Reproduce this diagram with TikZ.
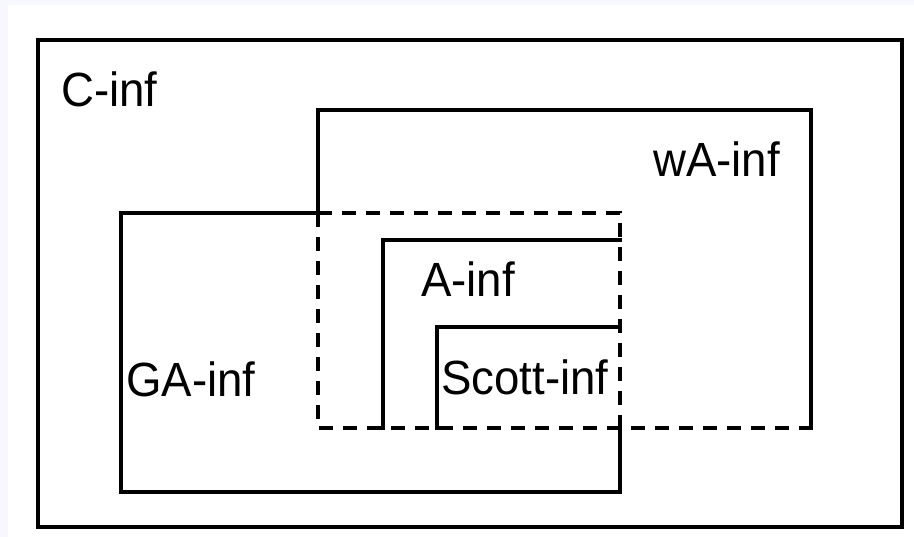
\documentclass[tikz,border=0pt]{standalone}
\usepackage{fontspec}
\setmainfont{Liberation Sans}
\begin{document}
\begin{tikzpicture}[x=1pt, y=-1pt,
  frame/.style={line width=3.3pt, line cap=rect, line join=miter},
  inter/.style={line width=3.3pt, dash pattern=on 14pt off 10pt},
  setlabel/.style={anchor=base west, inner sep=0pt, xscale=0.95, transform shape,
    font=\fontsize{48}{48}\selectfont}]
  % canvas
  \fill[white!97!blue] (0,0) rectangle (914,537);
  \fill[white] (8,5) rectangle (914,537);
  \useasboundingbox (0,0) rectangle (914,537);

  % corner points of the sets
  \coordinate (cTL) at (38,40);   \coordinate (cBR) at (902,527);
  \coordinate (wTL) at (318,110); \coordinate (wBR) at (811,428);
  \coordinate (gTL) at (121,213); \coordinate (gBR) at (620,492);

  % C-inf
  \draw[frame] (cTL) rectangle (cBR);

  % wA-inf: solid outside GA-inf
  \draw[frame] (318,213) -- (wTL) -- (811,110) -- (wBR);
  % GA-inf: solid outside wA-inf
  \draw[frame] (318,213) -- (gTL) -- (121,492) -- (gBR) -- (620,428);

  % common part of wA-inf and GA-inf, dashed
  \draw[inter] (318,213) -- (620,213) -- (620,428);
  \draw[inter] (318,213) -- (318,428) -- (wBR);

  % A-inf
  \draw[frame] (383,428) -- (383,240) -- (620,240);
  % Scott-inf
  \draw[frame] (437,428) -- (437,327) -- (620,327);

  % labels
  \node[setlabel] (lc) at (61,107) {C-inf};
  \node[setlabel] (lw) at (653,177) {wA-inf};
  \node[setlabel] (la) at (421,297) {A-inf};
  \node[setlabel] (lg) at (126,397) {GA-inf};
  \node[setlabel] (ls) at (441,395) {Scott-inf};
\end{tikzpicture}
\end{document}
